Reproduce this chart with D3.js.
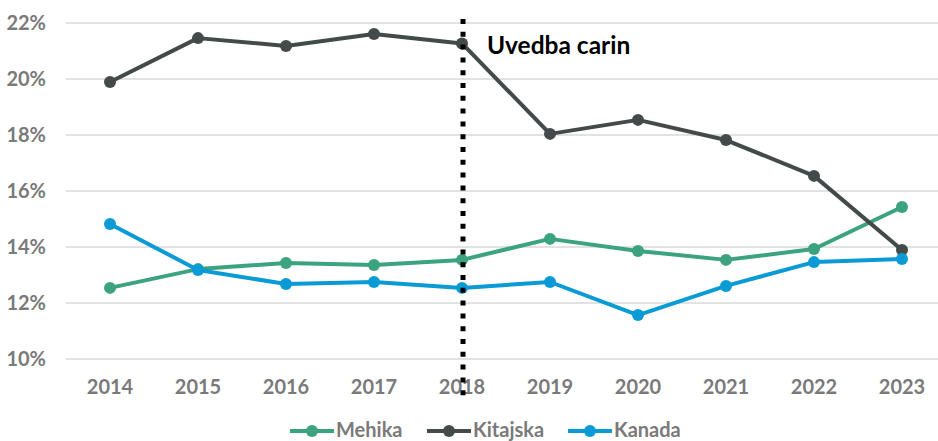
<!DOCTYPE html>
<html>
<head>
<meta charset="utf-8">
<script src="https://cdn.jsdelivr.net/npm/d3@7"></script>
<style>
  body { margin: 0; background: #fff; }
  svg { display: block; font-family: Lato, "Open Sans", sans-serif; }
</style>
</head>
<body>
<div id="chart"></div>
<script>
// data
const years = ["2014", "2015", "2016", "2017", "2018", "2019", "2020", "2021", "2022", "2023"];
const mehika = [12.54, 13.21, 13.43, 13.36, 13.54, 14.29, 13.86, 13.54, 13.93, 15.43];
const kitajska = [19.89, 21.46, 21.18, 21.61, 21.27, 18.04, 18.54, 17.82, 16.54, 13.89];
const kanada = [14.82, 13.18, 12.68, 12.75, 12.54, 12.75, 11.57, 12.61, 13.46, 13.57];
const yTicks = [10, 12, 14, 16, 18, 20, 22];
const markerYear = "2018";
const markerLabel = "Uvedba carin";

const series = [
  { name: "Mehika", values: mehika, color: "#3ba37f" },
  { name: "Kitajska", values: kitajska, color: "#434a4a" },
  { name: "Kanada", values: kanada, color: "#0a9bd6" }
];

const width = 938;
const height = 441;

const svg = d3.select("#chart").append("svg")
  .attr("width", width)
  .attr("height", height);

// category axis, the plot runs a bit past the right edge
const x = d3.scaleBand().domain(years).range([66, 946]);
const cx = d => x(d) + x.bandwidth() / 2;
const y = d3.scaleLinear().domain([10, 22]).range([359, 23]);

// gridlines
svg.append("g")
  .selectAll("line")
  .data(yTicks)
  .join("line")
  .attr("x1", 66)
  .attr("x2", 946)
  .attr("y1", d => y(d))
  .attr("y2", d => y(d))
  .attr("stroke", "#d9d9d9")
  .attr("stroke-width", 1.5);

// y tick labels
svg.append("g")
  .selectAll("text")
  .data(yTicks)
  .join("text")
  .attr("x", 46)
  .attr("y", d => y(d))
  .attr("dy", "0.36em")
  .attr("text-anchor", "end")
  .attr("fill", "#7a7a7a")
  .attr("font-size", 20)
  .attr("font-weight", "bold")
  .text(d => d + "%");

// x tick labels
svg.append("g")
  .selectAll("text")
  .data(years)
  .join("text")
  .attr("x", d => cx(d))
  .attr("y", 394)
  .attr("text-anchor", "middle")
  .attr("fill", "#7a7a7a")
  .attr("font-size", 20)
  .attr("font-weight", "bold")
  .text(d => d);

// lines and markers
const line = d3.line()
  .x((d, i) => cx(years[i]))
  .y(d => y(d));

const seriesG = svg.append("g")
  .selectAll("g")
  .data(series)
  .join("g");

seriesG.append("path")
  .attr("d", s => line(s.values))
  .attr("fill", "none")
  .attr("stroke", s => s.color)
  .attr("stroke-width", 4)
  .attr("stroke-linejoin", "round");

seriesG.selectAll("circle")
  .data(s => s.values.map(v => ({ v, color: s.color })))
  .join("circle")
  .attr("cx", (d, i) => cx(years[i]))
  .attr("cy", d => y(d.v))
  .attr("r", 6)
  .attr("fill", d => d.color);

// tariff marker
svg.append("line")
  .attr("x1", cx(markerYear) + 1)
  .attr("x2", cx(markerYear) + 1)
  .attr("y1", 19)
  .attr("y2", 398)
  .attr("stroke", "#000")
  .attr("stroke-width", 5)
  .attr("stroke-dasharray", "5,7.8");

svg.append("text")
  .attr("x", 487)
  .attr("y", 54)
  .attr("fill", "#000")
  .attr("font-size", 24.5)
  .attr("font-weight", "bold")
  .text(markerLabel);

// legend (nudged up a little so the descenders stay inside)
const legendX = [290, 427, 568];
const legend = svg.append("g")
  .selectAll("g")
  .data(series)
  .join("g")
  .attr("transform", (d, i) => `translate(${legendX[i]},431)`);

legend.append("line")
  .attr("x1", 0)
  .attr("x2", 44)
  .attr("stroke", d => d.color)
  .attr("stroke-width", 4);

legend.append("circle")
  .attr("cx", 22)
  .attr("r", 6)
  .attr("fill", d => d.color);

legend.append("text")
  .attr("x", 46)
  .attr("y", 6)
  .attr("fill", "#7a7a7a")
  .attr("font-size", 20)
  .attr("font-weight", "bold")
  .text(d => d.name);
</script>
</body>
</html>
